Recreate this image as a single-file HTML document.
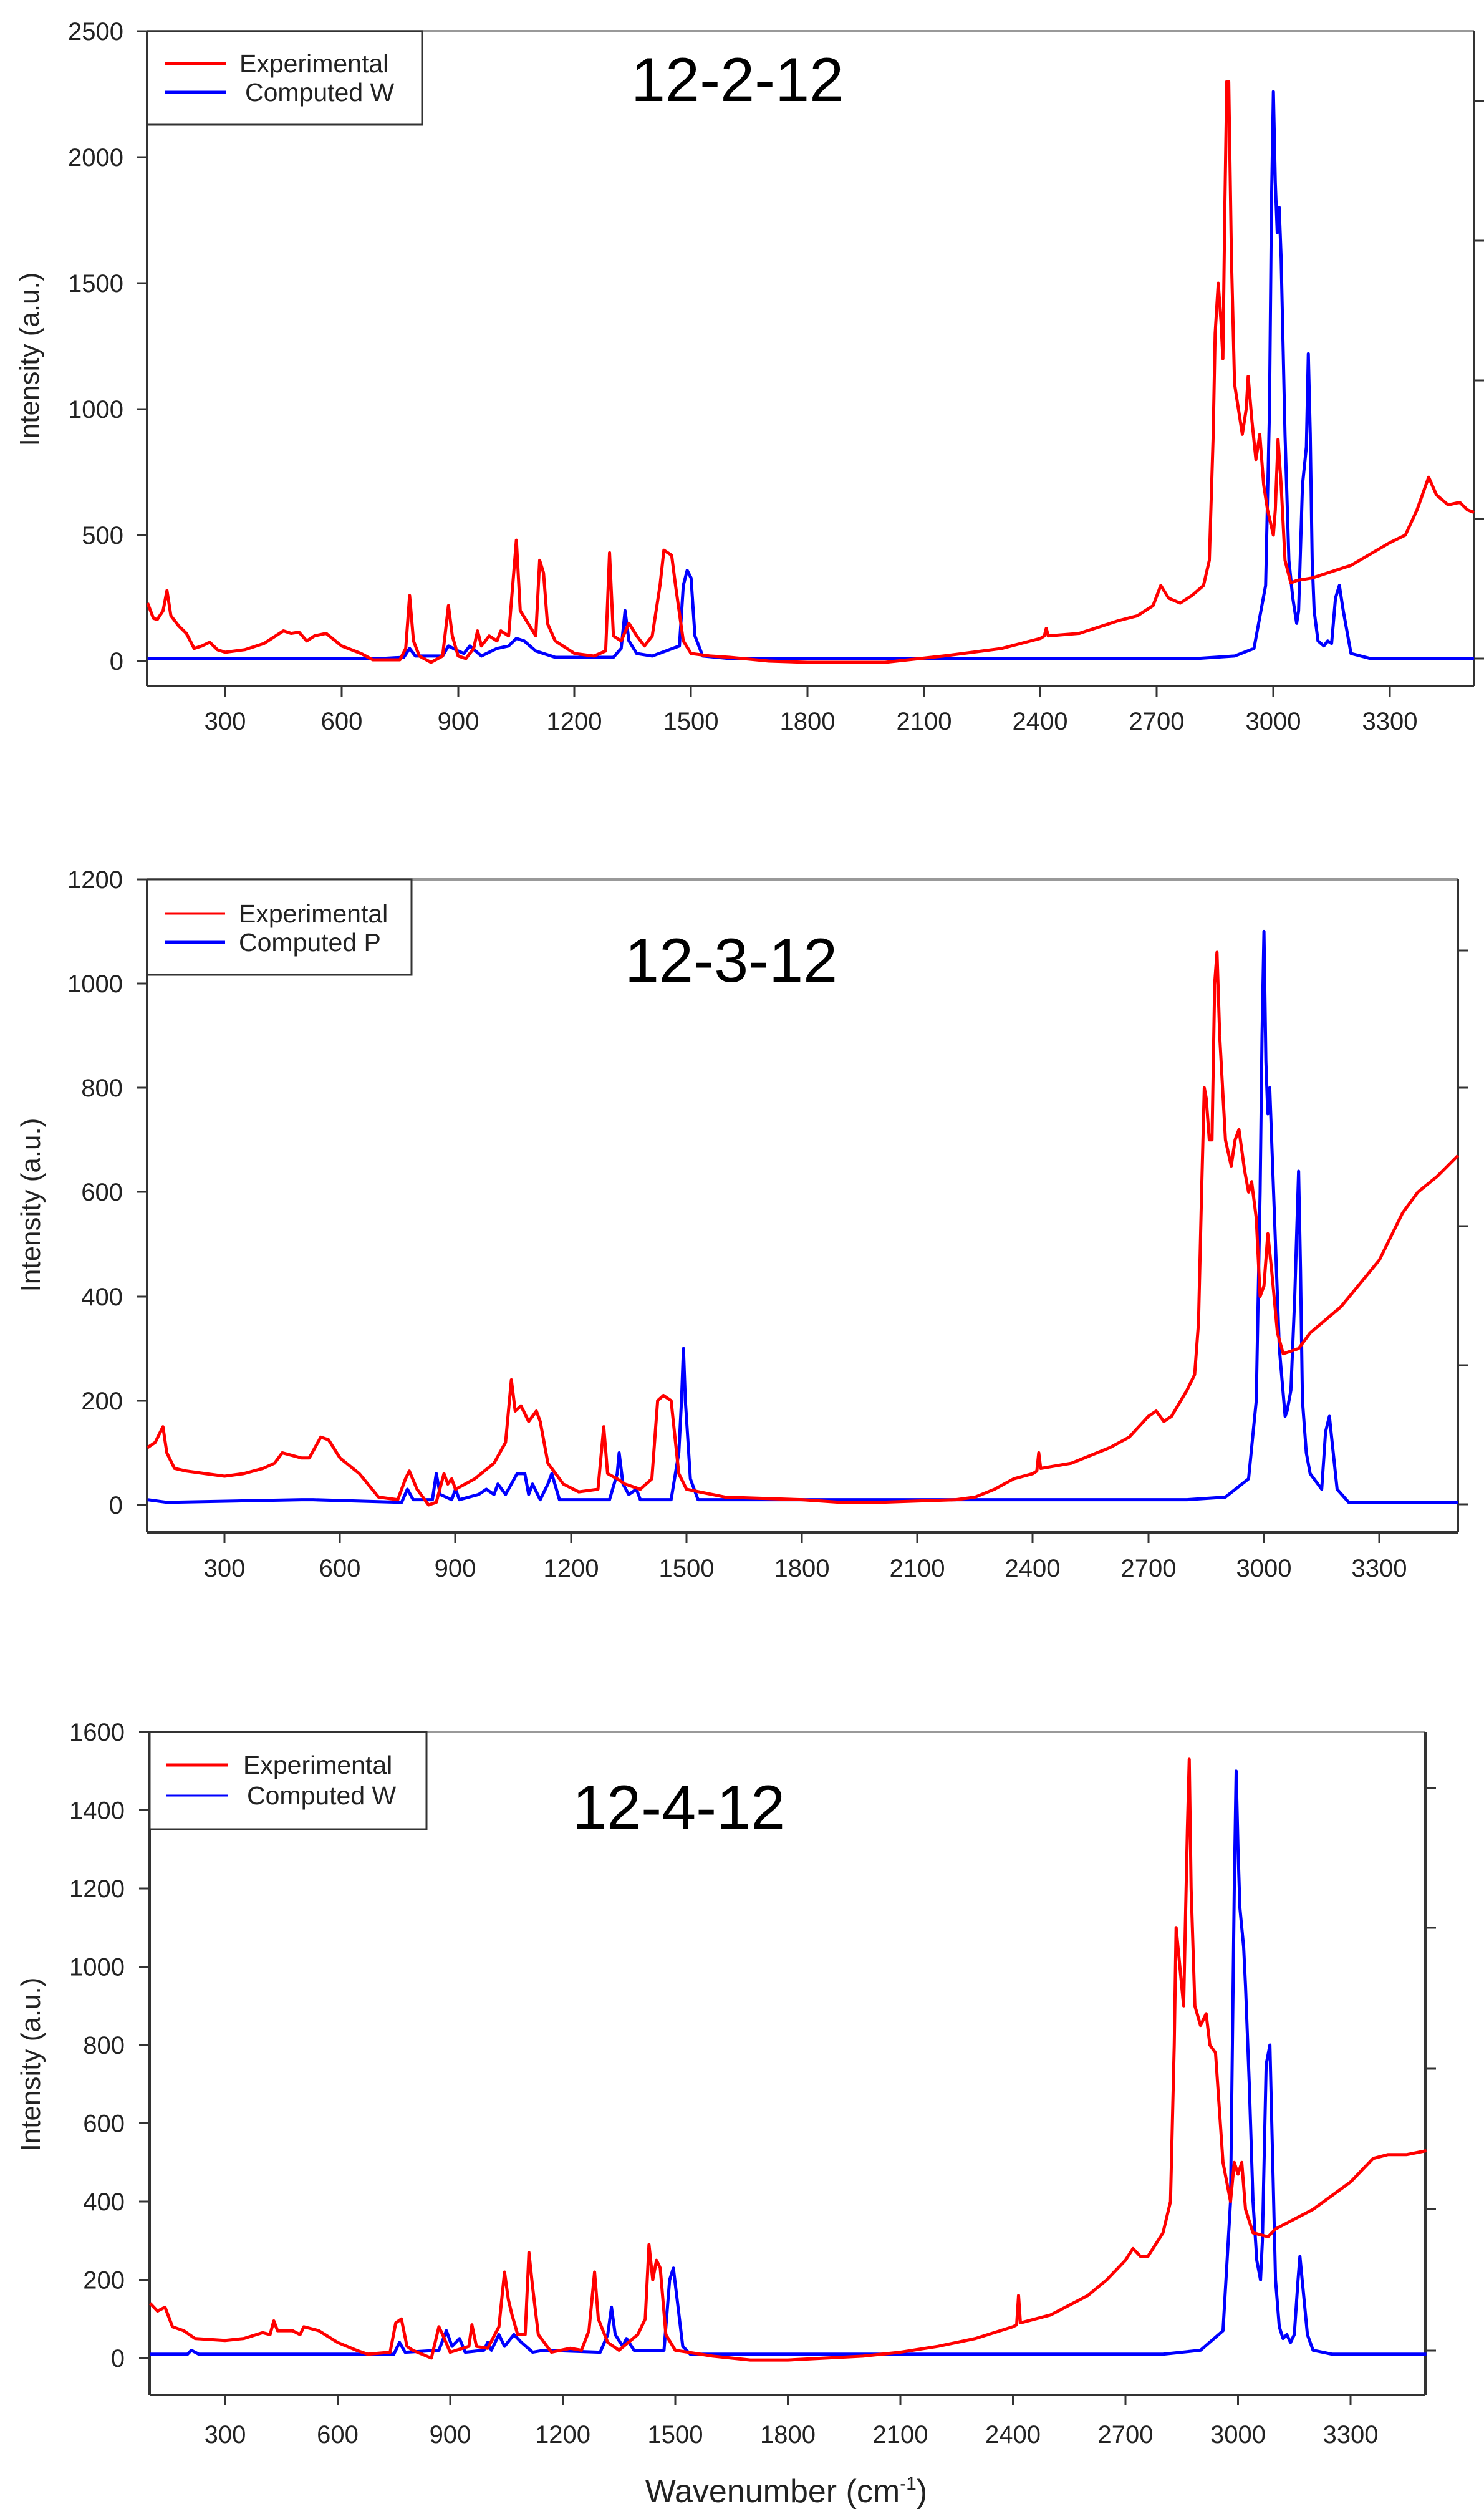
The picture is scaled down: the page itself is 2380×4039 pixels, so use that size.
<!DOCTYPE html>
<html><head><meta charset="utf-8"><style>
html,body{margin:0;padding:0;background:#fff}
svg{display:block}
text{font-family:"Liberation Sans",Arial,sans-serif;fill:#222}
.t{font-size:40px}
.lg{font-size:41px}
.ti{font-size:99px;fill:#000}
.ax{stroke:#333;stroke-width:4;fill:none}
.fr{stroke:#999;stroke-width:4;fill:none}
.tk{stroke:#333;stroke-width:3}
.r{stroke:#f00;stroke-width:5;fill:none;vector-effect:non-scaling-stroke;stroke-linejoin:round}
.b{stroke:#00f;stroke-width:5;fill:none;vector-effect:non-scaling-stroke;stroke-linejoin:round}
</style></head><body>
<svg width="2380" height="4039" viewBox="0 0 2380 4039" xmlns="http://www.w3.org/2000/svg">

<!-- ========== PLOT 1 ========== -->
<line class="fr" x1="236" y1="50" x2="2364" y2="50"/>
<line class="ax" x1="2364" y1="50" x2="2364" y2="1100"/>
<line class="ax" x1="236" y1="50" x2="236" y2="1100"/>
<line class="ax" x1="236" y1="1100" x2="2364" y2="1100"/>
<g class="tk">
<line x1="219" y1="1060" x2="236" y2="1060"/><line x1="219" y1="858" x2="236" y2="858"/><line x1="219" y1="656" x2="236" y2="656"/><line x1="219" y1="454" x2="236" y2="454"/><line x1="219" y1="252" x2="236" y2="252"/><line x1="219" y1="50" x2="236" y2="50"/>
<line x1="2364" y1="162" x2="2381" y2="162"/><line x1="2364" y1="386" x2="2381" y2="386"/><line x1="2364" y1="610" x2="2381" y2="610"/><line x1="2364" y1="832" x2="2381" y2="832"/><line x1="2364" y1="1056" x2="2381" y2="1056"/>
<line x1="361" y1="1100" x2="361" y2="1117"/><line x1="548" y1="1100" x2="548" y2="1117"/><line x1="735" y1="1100" x2="735" y2="1117"/><line x1="921" y1="1100" x2="921" y2="1117"/><line x1="1108" y1="1100" x2="1108" y2="1117"/><line x1="1295" y1="1100" x2="1295" y2="1117"/><line x1="1482" y1="1100" x2="1482" y2="1117"/><line x1="1668" y1="1100" x2="1668" y2="1117"/><line x1="1855" y1="1100" x2="1855" y2="1117"/><line x1="2042" y1="1100" x2="2042" y2="1117"/><line x1="2229" y1="1100" x2="2229" y2="1117"/>
</g>
<g class="t" text-anchor="end">
<text x="198" y="1074">0</text><text x="198" y="872">500</text><text x="198" y="670">1000</text><text x="198" y="468">1500</text><text x="198" y="266">2000</text><text x="198" y="64">2500</text>
</g>
<g class="t" text-anchor="middle">
<text x="361" y="1170">300</text><text x="548" y="1170">600</text><text x="735" y="1170">900</text><text x="921" y="1170">1200</text><text x="1108" y="1170">1500</text><text x="1295" y="1170">1800</text><text x="1482" y="1170">2100</text><text x="1668" y="1170">2400</text><text x="1855" y="1170">2700</text><text x="2042" y="1170">3000</text><text x="2229" y="1170">3300</text>
</g>
<text class="t" style="font-size:44px" transform="translate(62,576) rotate(-90)" text-anchor="middle">Intensity (a.u.)</text>
<text class="ti" x="1012" y="162">12-2-12</text>
<g transform="matrix(0.6226,0,0,-0.404,174.4,1060)">
<polyline class="b" points="100,10 700,10 760,15 775,50 790,20 860,20 875,60 900,40 915,30 930,60 960,20 1000,50 1030,60 1050,90 1070,80 1100,40 1150,15 1300,15 1320,50 1330,200 1340,80 1360,30 1400,20 1470,60 1480,300 1490,360 1500,330 1510,100 1530,20 1600,10 2800,10 2900,20 2950,50 2980,300 2990,1000 2995,1800 3000,2260 3005,1900 3010,1700 3015,1800 3020,1600 3030,900 3040,400 3050,250 3060,150 3065,200 3075,700 3085,850 3090,1220 3095,900 3100,400 3105,200 3115,80 3130,60 3140,80 3150,70 3160,250 3170,300 3180,200 3200,30 3250,10 3517,10"/>
<polyline class="r" points="100,230 115,170 125,165 140,200 150,280 160,180 180,140 200,110 220,50 240,60 260,75 280,45 300,35 350,45 400,70 420,90 450,120 470,110 490,115 510,80 530,100 560,110 600,60 650,30 680,5 750,5 765,50 775,260 785,80 800,20 830,-5 860,20 875,220 885,100 900,20 920,10 940,50 950,120 960,60 980,100 1000,80 1010,120 1030,100 1050,480 1060,200 1080,150 1100,100 1110,400 1120,350 1130,150 1150,80 1200,30 1250,20 1280,40 1290,430 1300,100 1320,80 1340,150 1360,100 1380,60 1400,100 1420,300 1430,440 1450,420 1460,300 1480,80 1500,30 1550,20 1600,15 1700,0 1800,-5 2000,-5 2150,20 2250,40 2300,50 2400,90 2410,100 2415,130 2420,100 2500,110 2600,160 2650,180 2690,220 2710,300 2730,250 2760,230 2790,260 2820,300 2835,400 2845,900 2850,1300 2858,1500 2865,1350 2870,1200 2875,1800 2880,2300 2885,2300 2892,1600 2900,1100 2920,900 2930,1000 2935,1130 2945,950 2955,800 2965,900 2975,700 2985,600 3000,500 3005,600 3012,880 3020,700 3030,400 3045,310 3060,320 3100,330 3200,380 3300,470 3340,500 3370,600 3400,730 3420,660 3450,620 3480,630 3500,600 3517,590"/>
</g>
<rect x="236" y="50" width="441" height="150" fill="#fff" stroke="#333" stroke-width="3"/>
<line x1="264" y1="102" x2="362" y2="102" stroke="#f00" stroke-width="5"/>
<line x1="264" y1="148" x2="362" y2="148" stroke="#00f" stroke-width="5"/>
<text class="lg" x="384" y="116">Experimental</text>
<text class="lg" x="393" y="162">Computed  W</text>

<!-- ========== PLOT 2 ========== -->
<line class="fr" x1="236" y1="1410" x2="2338" y2="1410"/>
<line class="ax" x1="2338" y1="1410" x2="2338" y2="2457"/>
<line class="ax" x1="236" y1="1410" x2="236" y2="2457"/>
<line class="ax" x1="236" y1="2457" x2="2338" y2="2457"/>
<g class="tk">
<line x1="219" y1="2413" x2="236" y2="2413"/><line x1="219" y1="2246" x2="236" y2="2246"/><line x1="219" y1="2079" x2="236" y2="2079"/><line x1="219" y1="1911" x2="236" y2="1911"/><line x1="219" y1="1744" x2="236" y2="1744"/><line x1="219" y1="1577" x2="236" y2="1577"/><line x1="219" y1="1410" x2="236" y2="1410"/>
<line x1="2338" y1="1524" x2="2355" y2="1524"/><line x1="2338" y1="1744" x2="2355" y2="1744"/><line x1="2338" y1="1966" x2="2355" y2="1966"/><line x1="2338" y1="2189" x2="2355" y2="2189"/><line x1="2338" y1="2412" x2="2355" y2="2412"/>
<line x1="360" y1="2457" x2="360" y2="2474"/><line x1="545" y1="2457" x2="545" y2="2474"/><line x1="730" y1="2457" x2="730" y2="2474"/><line x1="916" y1="2457" x2="916" y2="2474"/><line x1="1101" y1="2457" x2="1101" y2="2474"/><line x1="1286" y1="2457" x2="1286" y2="2474"/><line x1="1471" y1="2457" x2="1471" y2="2474"/><line x1="1656" y1="2457" x2="1656" y2="2474"/><line x1="1842" y1="2457" x2="1842" y2="2474"/><line x1="2027" y1="2457" x2="2027" y2="2474"/><line x1="2212" y1="2457" x2="2212" y2="2474"/>
</g>
<g class="t" text-anchor="end">
<text x="197" y="2427">0</text><text x="197" y="2260">200</text><text x="197" y="2093">400</text><text x="197" y="1925">600</text><text x="197" y="1758">800</text><text x="197" y="1591">1000</text><text x="197" y="1424">1200</text>
</g>
<g class="t" text-anchor="middle">
<text x="360" y="2528">300</text><text x="545" y="2528">600</text><text x="730" y="2528">900</text><text x="916" y="2528">1200</text><text x="1101" y="2528">1500</text><text x="1286" y="2528">1800</text><text x="1471" y="2528">2100</text><text x="1656" y="2528">2400</text><text x="1842" y="2528">2700</text><text x="2027" y="2528">3000</text><text x="2212" y="2528">3300</text>
</g>
<text class="t" style="font-size:44px" transform="translate(64,1932) rotate(-90)" text-anchor="middle">Intensity (a.u.)</text>
<text class="ti" x="1002" y="1574">12-3-12</text>
<g transform="matrix(0.6174,0,0,-0.836,174.9,2413)">
<polyline class="b" points="100,10 150,5 500,10 530,10 760,5 775,30 790,10 840,10 850,60 860,20 890,10 900,30 910,10 960,20 980,30 1000,20 1010,40 1030,20 1060,60 1080,60 1090,20 1100,40 1120,10 1140,40 1150,60 1170,10 1300,10 1320,60 1325,100 1335,40 1350,20 1370,30 1380,10 1460,10 1480,100 1487,200 1492,300 1497,200 1510,50 1530,10 2800,10 2900,15 2960,50 2980,200 2990,600 2995,900 3000,1100 3005,850 3010,750 3015,800 3020,700 3030,500 3040,300 3055,170 3060,180 3070,220 3080,400 3090,640 3095,450 3100,200 3110,100 3120,60 3140,40 3150,30 3160,140 3170,170 3180,100 3190,30 3220,5 3504,5"/>
<polyline class="r" points="100,110 120,120 140,150 150,100 170,70 200,65 250,60 300,55 350,60 400,70 430,80 450,100 500,90 520,90 550,130 570,125 600,90 650,60 700,15 750,10 770,50 780,65 800,30 830,0 850,5 870,60 880,40 890,50 900,30 950,50 1000,80 1030,120 1045,240 1055,180 1070,190 1090,160 1110,180 1120,160 1140,80 1180,40 1220,25 1270,30 1285,150 1295,60 1320,50 1340,40 1380,30 1410,50 1425,200 1440,210 1460,200 1480,60 1500,30 1600,15 1800,10 1900,5 2000,5 2200,10 2250,15 2300,30 2350,50 2400,60 2410,65 2415,100 2420,70 2500,80 2600,110 2650,130 2700,170 2720,180 2740,160 2760,170 2800,220 2820,250 2830,350 2838,600 2845,800 2850,780 2858,700 2865,700 2872,1000 2878,1060 2885,900 2900,700 2915,650 2925,700 2935,720 2950,640 2960,600 2968,620 2980,550 2990,400 3000,420 3010,520 3020,450 3035,330 3050,290 3090,300 3120,330 3200,380 3300,470 3360,560 3400,600 3450,630 3504,670"/>
</g>
<rect x="236" y="1410" width="424" height="153" fill="#fff" stroke="#333" stroke-width="3"/>
<line x1="264" y1="1465" x2="361" y2="1465" stroke="#f00" stroke-width="3"/>
<line x1="264" y1="1511" x2="361" y2="1511" stroke="#00f" stroke-width="5"/>
<text class="lg" x="383" y="1479">Experimental</text>
<text class="lg" x="383" y="1525">Computed  P</text>

<!-- ========== PLOT 3 ========== -->
<line class="fr" x1="240" y1="2777" x2="2286" y2="2777"/>
<line class="ax" x1="2286" y1="2777" x2="2286" y2="3840"/>
<line class="ax" x1="240" y1="2777" x2="240" y2="3840"/>
<line class="ax" x1="240" y1="3840" x2="2286" y2="3840"/>
<g class="tk">
<line x1="223" y1="3781" x2="240" y2="3781"/><line x1="223" y1="3655.5" x2="240" y2="3655.5"/><line x1="223" y1="3530" x2="240" y2="3530"/><line x1="223" y1="3404.5" x2="240" y2="3404.5"/><line x1="223" y1="3279" x2="240" y2="3279"/><line x1="223" y1="3153.5" x2="240" y2="3153.5"/><line x1="223" y1="3028" x2="240" y2="3028"/><line x1="223" y1="2902.5" x2="240" y2="2902.5"/><line x1="223" y1="2777" x2="240" y2="2777"/>
<line x1="2286" y1="2867" x2="2303" y2="2867"/><line x1="2286" y1="3091" x2="2303" y2="3091"/><line x1="2286" y1="3317" x2="2303" y2="3317"/><line x1="2286" y1="3542" x2="2303" y2="3542"/><line x1="2286" y1="3769" x2="2303" y2="3769"/>
<line x1="361" y1="3840" x2="361" y2="3857"/><line x1="541.5" y1="3840" x2="541.5" y2="3857"/><line x1="722" y1="3840" x2="722" y2="3857"/><line x1="902.5" y1="3840" x2="902.5" y2="3857"/><line x1="1083" y1="3840" x2="1083" y2="3857"/><line x1="1263.5" y1="3840" x2="1263.5" y2="3857"/><line x1="1444" y1="3840" x2="1444" y2="3857"/><line x1="1624.5" y1="3840" x2="1624.5" y2="3857"/><line x1="1805" y1="3840" x2="1805" y2="3857"/><line x1="1985.5" y1="3840" x2="1985.5" y2="3857"/><line x1="2166" y1="3840" x2="2166" y2="3857"/>
</g>
<g class="t" text-anchor="end">
<text x="200" y="3795">0</text><text x="200" y="3669.5">200</text><text x="200" y="3544">400</text><text x="200" y="3418.5">600</text><text x="200" y="3293">800</text><text x="200" y="3167.5">1000</text><text x="200" y="3042">1200</text><text x="200" y="2916.5">1400</text><text x="200" y="2791">1600</text>
</g>
<g class="t" text-anchor="middle">
<text x="361" y="3917">300</text><text x="541.5" y="3917">600</text><text x="722" y="3917">900</text><text x="902.5" y="3917">1200</text><text x="1083" y="3917">1500</text><text x="1263.5" y="3917">1800</text><text x="1444" y="3917">2100</text><text x="1624.5" y="3917">2400</text><text x="1805" y="3917">2700</text><text x="1985.5" y="3917">3000</text><text x="2166" y="3917">3300</text>
</g>
<text class="t" style="font-size:44px" transform="translate(64,3310) rotate(-90)" text-anchor="middle">Intensity (a.u.)</text>
<text class="ti" x="918" y="2932">12-4-12</text>
<text class="t" style="font-size:52px" x="1261" y="4012" text-anchor="middle">Wavenumber (cm<tspan dy="-20" style="font-size:30px">-1</tspan><tspan dy="20">)</tspan></text>
<g transform="matrix(0.6017,0,0,-0.6275,180.4,3781)">
<polyline class="b" points="100,10 200,10 210,20 230,10 700,10 750,10 765,40 780,15 870,20 890,70 905,30 925,50 940,15 990,20 1000,40 1010,20 1030,60 1045,30 1070,60 1090,40 1120,15 1150,20 1300,15 1320,60 1330,130 1340,60 1360,30 1370,50 1390,20 1470,20 1485,200 1495,230 1505,150 1520,30 1540,10 2800,10 2900,20 2960,70 2980,400 2990,1200 2995,1500 3000,1300 3005,1150 3015,1050 3020,950 3030,700 3040,400 3050,250 3060,200 3065,300 3075,750 3085,800 3090,600 3100,200 3110,80 3120,50 3130,60 3140,40 3150,60 3160,200 3165,260 3175,160 3185,60 3200,20 3250,10 3502,10"/>
<polyline class="r" points="100,140 120,120 140,130 160,80 190,70 220,50 300,45 350,50 400,65 420,60 430,95 440,70 480,70 500,60 510,80 550,70 600,40 650,20 680,10 740,15 755,90 770,100 785,30 800,20 850,0 870,80 880,60 900,15 950,30 958,85 970,30 1000,25 1030,80 1045,220 1055,150 1065,110 1080,60 1100,60 1110,270 1120,180 1135,60 1170,15 1220,25 1250,20 1270,70 1285,220 1295,100 1320,40 1350,20 1400,60 1420,100 1430,290 1440,200 1450,250 1460,230 1475,60 1500,20 1600,5 1700,-5 1800,-5 1900,0 2000,5 2100,15 2200,30 2300,50 2400,80 2410,85 2415,160 2420,90 2500,110 2600,160 2650,200 2700,250 2720,280 2740,260 2760,260 2800,320 2820,400 2830,800 2835,1100 2845,1000 2855,900 2865,1350 2870,1530 2875,1200 2885,900 2900,850 2915,880 2925,800 2940,780 2960,500 2980,400 2990,500 3000,470 3010,500 3020,380 3040,320 3080,310 3100,330 3200,380 3300,450 3360,510 3400,520 3450,520 3502,530"/>
</g>
<rect x="240" y="2777" width="444" height="156" fill="#fff" stroke="#333" stroke-width="3"/>
<line x1="267" y1="2830" x2="366" y2="2830" stroke="#f00" stroke-width="5"/>
<line x1="267" y1="2879" x2="366" y2="2879" stroke="#00f" stroke-width="3"/>
<text class="lg" x="390" y="2844">Experimental</text>
<text class="lg" x="396" y="2893">Computed  W</text>
</svg>
</body></html>
